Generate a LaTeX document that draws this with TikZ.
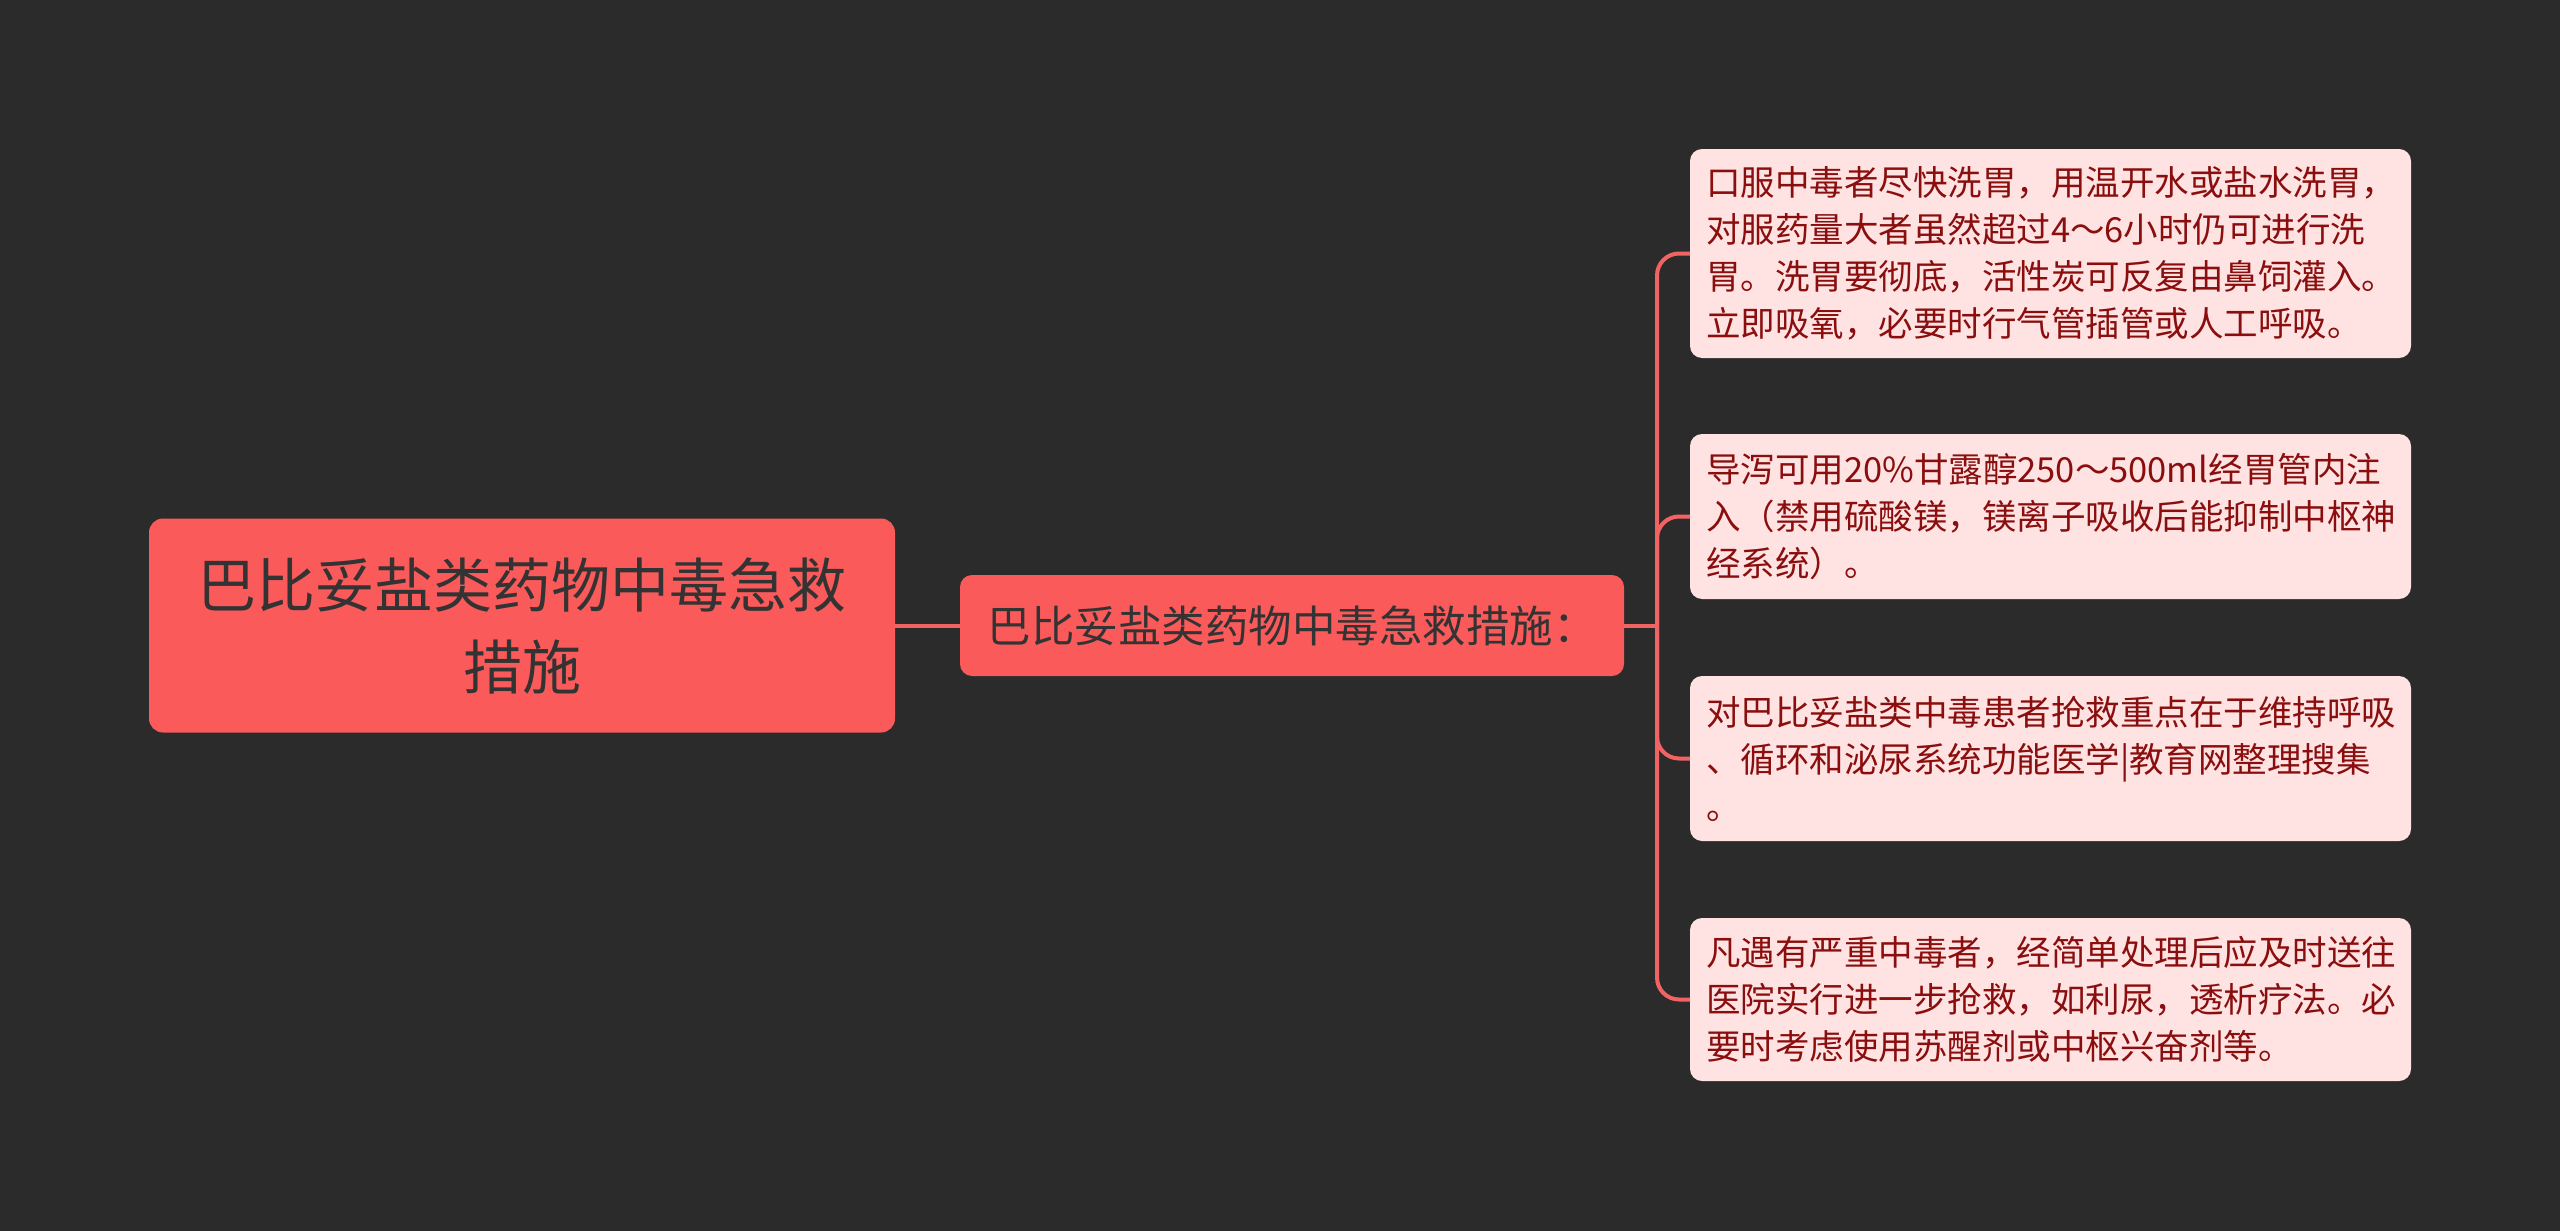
\documentclass[tikz,border=0pt]{standalone}
\usepackage{fontspec}
\setmainfont{Noto Sans CJK SC}
\definecolor{bg}{HTML}{2B2B2B}
\definecolor{rootfill}{HTML}{FA5A5A}
\definecolor{leaffill}{HTML}{FFE2E2}
\definecolor{leaftext}{HTML}{8A0E0E}
\definecolor{darktext}{HTML}{333333}
\definecolor{linecol}{HTML}{F26464}
\begin{document}
\begin{tikzpicture}[x=1pt,y=-1pt,
  rootbox/.style={fill=rootfill, rounded corners=14pt, minimum width=746pt, minimum height=214pt,
    text=darktext, align=center, inner sep=0pt, font=\fontsize{59}{82}\selectfont},
  midbox/.style={fill=rootfill, rounded corners=12pt, minimum width=664pt, minimum height=101pt,
    text=darktext, align=center, inner sep=0pt, font=\fontsize{43.5}{56}\selectfont},
  leafbox/.style={fill=leaffill, rounded corners=12pt, minimum width=721pt, text width=689pt,
    text=leaftext, align=left, inner sep=0pt, font=\fontsize{34.5}{47}\selectfont},
  conn/.style={draw=linecol, line width=4pt}
]
\fill[bg] (0,0) rectangle (2560,1231);
\useasboundingbox (0,0) rectangle (2560,1231);

\node[rootbox] (root) at (522,625.5) {巴比妥盐类药物中毒急救\\措施};
\node[midbox] (mid) at (1292,625.5) {巴比妥盐类药物中毒急救措施：};

\node[leafbox, minimum height=209pt] (n1) at (2050.5,253.5) {口服中毒者尽快洗胃，用温开水或盐水洗胃，\\对服药量大者虽然超过4～6小时仍可进行洗\\胃。洗胃要彻底，活性炭可反复由鼻饲灌入。\\立即吸氧，必要时行气管插管或人工呼吸。};
\node[leafbox, minimum height=165pt] (n2) at (2050.5,516.5) {导泻可用20\%甘露醇250～500ml经胃管内注\\入（禁用硫酸镁，镁离子吸收后能抑制中枢神\\经系统）。};
\node[leafbox, minimum height=165pt] (n3) at (2050.5,758.5) {对巴比妥盐类中毒患者抢救重点在于维持呼吸\\、循环和泌尿系统功能医学|教育网整理搜集\\。};
\node[leafbox, minimum height=163pt] (n4) at (2050.5,999.5) {凡遇有严重中毒者，经简单处理后应及时送往\\医院实行进一步抢救，如利尿，透析疗法。必\\要时考虑使用苏醒剂或中枢兴奋剂等。};

\coordinate (trunk) at (1657,625.5);
\draw[conn] (root.east) -- (mid.west);
\draw[conn] (mid.east) -- (trunk);
\foreach \n in {n1,n2,n3,n4}{
  \draw[conn, rounded corners=22pt] (trunk) |- (\n.west);
}
\end{tikzpicture}
\end{document}
